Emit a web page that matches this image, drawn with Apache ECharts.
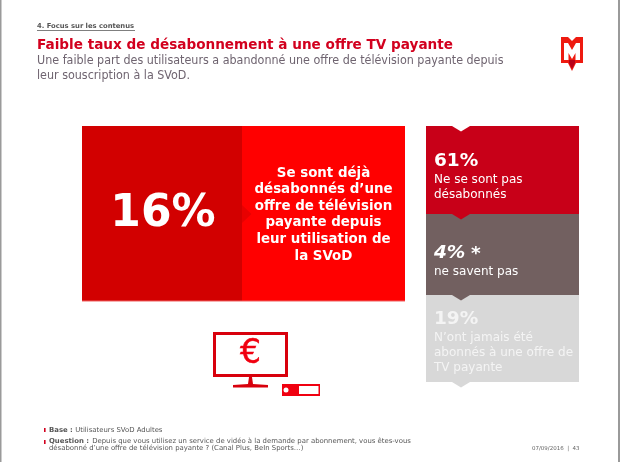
<!DOCTYPE html>
<html><head><meta charset="utf-8">
<style>html,body{margin:0;padding:0;background:#fff}#c{width:620px;height:462px}</style>
<script src="https://cdn.jsdelivr.net/npm/echarts@6/dist/echarts.min.js"></script>
</head><body><div id="c"></div>
<script>
// ---- content ----
const sectionTitle = "4. Focus sur les contenus";
const title = "Faible taux de désabonnement à une offre TV payante";
const subtitle = ["Une faible part des utilisateurs a abandonné une offre de télévision payante depuis", "leur souscription à la SVoD."];
const mainValue = 16;
const mainCaption = ["Se sont déjà", "désabonnés d’une", "offre de télévision", "payante depuis", "leur utilisation de", "la SVoD"];
const sideValues = [61, 4, 19];
const sideSuffix = ["", "*", ""];
const sideCaptions = [["Ne se sont pas", "désabonnés"], ["ne savent pas"], ["N’ont jamais été", "abonnés à une offre de", "TV payante"]];
const baseNote = ["Base :", " Utilisateurs SVoD Adultes"];
const questionNote = ["Question :", " Depuis que vous utilisez un service de vidéo à la demande par abonnement, vous êtes-vous", "désabonné d’une offre de télévision payante ? (Canal Plus, BeIn Sports…)"];
const footerDate = "07/09/2016  |  43";

// ---- layout and styles ----
const FONT = '"DejaVu Sans", Verdana, sans-serif';
const NARROW = '"DejaVu Sans Condensed", "DejaVu Sans", sans-serif';
const sideBoxes = [
  {top:126,bottom:214,fill:'#c80018',text:'#fff',capY:[180,194.5],numY:161,italic:false},
  {top:214,bottom:295,fill:'#726060',text:'#fff',capY:[272],numY:253,italic:true},
  {top:295,bottom:382,fill:'#d8d8d8',text:'#f4f4f4',capY:[338,352.5,367.5],numY:319,italic:false}
];
const SX0=426, SX1=579, AX0=452, AX1=470, AD=5.5;

function txt(x,y,t,size,color,opt){
  return Object.assign({type:'text',x:x,y:y,silent:true,z:20,style:Object.assign({
    text:t,fontFamily:FONT,fontSize:size,fill:color,textAlign:'left',textVerticalAlign:'middle'},opt||{})});
}
function poly(pts,fill,z){return {type:'polygon',shape:{points:pts},style:{fill:fill},z:z||5,silent:true};}
function rect(x,y,w,h,fill,z,extra){return {type:'rect',shape:{x:x,y:y,width:w,height:h},style:Object.assign({fill:fill},extra||{}),z:z||5,silent:true};}

function renderTile(params, api){
  const i = params.dataIndex, b = sideBoxes[i], v = api.value(0);
  const children = [ rect(SX0,b.top,SX1-SX0,b.bottom-b.top,b.fill,5) ];
  const above = i===0 ? '#ffffff' : sideBoxes[i-1].fill;
  children.push(poly([[AX0,b.top],[AX1,b.top],[(AX0+AX1)/2,b.top+AD]],above,6));
  if(i===sideBoxes.length-1) children.push(poly([[AX0,b.bottom],[AX1,b.bottom],[(AX0+AX1)/2,b.bottom+AD]],b.fill,6));
  children.push(txt(434,b.numY,v+'%',18.5,b.text,{fontWeight:'bold',fontStyle:b.italic?'italic':'normal'}));
  if(sideSuffix[i]) children.push(txt(471,b.numY+1,sideSuffix[i],18.5,b.text,{fontWeight:'bold',fontStyle:'italic'}));
  sideCaptions[i].forEach((l,k)=>children.push(txt(434,b.capY[k],l,12,b.text)));
  return {type:'group',children:children};
}
function renderMain(params, api){
  const v = api.value(0), cy=[173.5,190,206.5,223,239.5,256.5], ch=[
    rect(82,126,160,175,'#d20000',5), rect(242,126,163,175,'#ff0000',5),
    rect(82,300.5,323,1,'#f06060',6),
    poly([[242,205],[251.5,214],[242,223]],'#e80000',6),
    txt(163,215,v+'%',44,'#fff',{fontWeight:'bold',textAlign:'center'})];
  mainCaption.forEach((l,k)=>ch.push(txt(323.5,cy[k],l,13.4,'#fff',{fontWeight:'bold',textAlign:'center'})));
  return {type:'group',children:ch};
}

const chrome = [
  rect(0,0,1.5,462,'#9a9a9a',1), rect(618,0,2,462,'#9a9a9a',1),
  txt(37,26.5,sectionTitle,6.8,'#555',{fontWeight:'bold'}),
  rect(37,30,98,0.8,'#555',2),
  txt(37,45.5,title,13.6,'#d2001e',{fontWeight:'bold'}),
  txt(37,61,subtitle[0],12.4,'#6f6470',{fontFamily:NARROW}),
  txt(37,75.5,subtitle[1],12.4,'#6f6470',{fontFamily:NARROW}),
  // logo
  poly([[561,37],[568,37],[572,41],[576,37],[583,37],[583,63],[576,63],[572,71],[568,63],[561,63]],'#ee1a10',5),
  poly([[564,43],[568,43],[572,50],[576,43],[580,43],[580,60],[575.5,60],[575.5,53],[572,59],[568.5,53],[568.5,60],[564,60]],'#fff',6),
  poly([[569,60],[575,60],[575,63],[572,69],[569,63]],'#b80018',7),
  // monitor
  rect(213,332,75,45,'#d8000c',5), rect(216,335,69,39,'#fff',6),
  txt(250.5,354.5,'€',33,'#f00010',{textAlign:'center',stroke:'#f00010',lineWidth:0.5}),
  poly([[249,377],[252,377],[253,384],[268,385],[268,387.5],[233,387.5],[233,385],[248,384]],'#d8000c',5),
  // decoder
  rect(282,384,38,12,'#f00010',5), rect(299,386,19.5,8,'#fff',6),
  {type:'circle',shape:{cx:286,cy:390,r:2.5},style:{fill:'#fff'},z:6,silent:true},
  // footnotes
  rect(44,428,1.6,4,'#d2001e',5), rect(44,440,1.6,4,'#d2001e',5),
  txt(49,430,baseNote[0],6.9,'#555',{fontWeight:'bold'}),
  txt(73,430,baseNote[1],6.9,'#555'),
  txt(49,441.5,questionNote[0],6.9,'#555',{fontWeight:'bold'}),
  txt(90,441.5,questionNote[1],6.9,'#555'),
  txt(49,448,questionNote[2],6.9,'#555'),
  txt(532,449,footerDate,5.5,'#666')
];

const chart = echarts.init(document.getElementById('c'),null,{renderer:'canvas'});
chart.setOption({
  animation:false,
  backgroundColor:'#fff',
  graphic:{elements:chrome},
  series:[
    {type:'custom',coordinateSystem:'none',data:[mainValue],renderItem:renderMain,silent:true},
    {type:'custom',coordinateSystem:'none',data:sideValues,renderItem:renderTile,silent:true}
  ]
});
</script></body></html>
